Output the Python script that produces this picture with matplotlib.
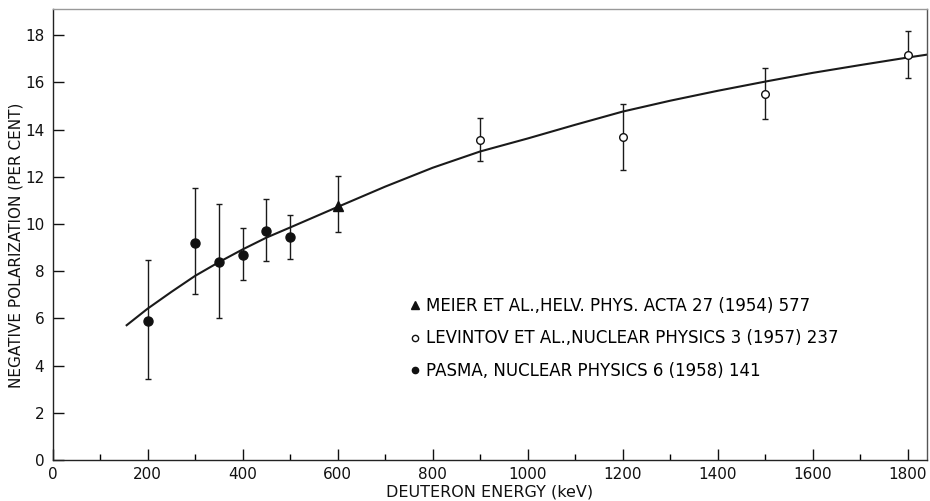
import numpy as np
import matplotlib
matplotlib.use("Agg")
import matplotlib.pyplot as plt
from matplotlib.lines import Line2D

# Pasma, Nuclear Physics 6 (1958) 141  -- filled circles
pasma_e = [200, 300, 350, 400, 450, 500]
pasma_p = [5.9, 9.2, 8.38, 8.7, 9.72, 9.45]
pasma_lo = [3.42, 7.02, 6.02, 7.61, 8.43, 8.51]
pasma_hi = [8.46, 11.53, 10.85, 9.84, 11.05, 10.37]

# Meier et al. -- triangle
meier_e = [600]
meier_p = [10.77]
meier_lo = [9.67]
meier_hi = [12.01]

# Levintov et al. -- open circles
lev_e = [900, 1200, 1500, 1800]
lev_p = [13.56, 13.70, 15.49, 17.15]
lev_lo = [12.66, 12.30, 14.45, 16.18]
lev_hi = [14.49, 15.08, 16.60, 18.17]

# drawn curve, points
curve_e = [156, 200, 250, 300, 350, 400, 450, 500, 600, 700, 800, 900, 1000,
           1100, 1200, 1300, 1400, 1500, 1600, 1700, 1800, 1840]
curve_p = [5.71, 6.41, 7.12, 7.80, 8.38, 8.92, 9.42, 9.85, 10.72, 11.58, 12.38,
           13.07, 13.62, 14.20, 14.76, 15.22, 15.64, 16.03, 16.40, 16.73, 17.05, 17.17]

legend_labels = ["MEIER ET AL.,HELV. PHYS. ACTA 27 (1954) 577",
                 "LEVINTOV ET AL.,NUCLEAR PHYSICS 3 (1957) 237",
                 "PASMA, NUCLEAR PHYSICS 6 (1958) 141"]

plt.rcParams['font.family'] = ['DejaVu Sans']

fig = plt.figure(figsize=(9.3, 5.01), dpi=100)
ax = fig.add_axes([0.0565, 0.0818, 0.94, 0.9])

ax.plot(curve_e, curve_p, color='#1a1a1a', lw=1.5, zorder=2)


def yerr(p, lo, hi):
    p = np.array(p)
    return [p - np.array(lo), np.array(hi) - p]


ebk = dict(ecolor='#1a1a1a', elinewidth=1.0, capsize=2.5, capthick=1.0, ls='none', zorder=3)
ax.errorbar(pasma_e, pasma_p, yerr=yerr(pasma_p, pasma_lo, pasma_hi),
            fmt='o', color='#111111', ms=6.5, **ebk)
ax.errorbar(meier_e, meier_p, yerr=yerr(meier_p, meier_lo, meier_hi),
            fmt='^', color='#111111', ms=7, **ebk)
ax.errorbar(lev_e, lev_p, yerr=yerr(lev_p, lev_lo, lev_hi),
            fmt='o', color='#111111', mfc='white', mec='#111111', mew=1.0, ms=5.5, **ebk)

ax.set_xlim(0, 1840)
ax.set_ylim(0, 19.1)
ax.set_xticks(np.arange(0, 1801, 200))
ax.set_xticks(np.arange(100, 1801, 200), minor=True)
ax.set_yticks(np.arange(0, 19, 2))
ax.tick_params(axis='both', which='major', direction='in', length=8, width=1,
               labelsize=11, colors='#111111')
ax.tick_params(axis='x', which='minor', direction='in', length=4, width=1)
ax.tick_params(axis='x', which='major', pad=5)
ax.tick_params(axis='y', which='major', pad=6)
for s in ax.spines.values():
    s.set_linewidth(1.0)
    s.set_color('#222222')
ax.spines['top'].set_color('#999999')
ax.spines['right'].set_color('#555555')

ax.set_xlabel("DEUTERON ENERGY (keV)", fontsize=11.5, labelpad=2, color='#111111')
ax.set_ylabel("NEGATIVE POLARIZATION (PER CENT)", fontsize=11, color='#111111')
ax.yaxis.set_label_coords(-0.0335, 0.477)

handles = [Line2D([], [], marker='^', ls='none', color='#111111', ms=6),
           Line2D([], [], marker='o', ls='none', mfc='white', mec='#111111', mew=1.0, ms=4.5),
           Line2D([], [], marker='o', ls='none', color='#111111', ms=4.5)]
ax.legend(handles, legend_labels, loc='upper left', bbox_to_anchor=(0.4014, 0.377),
          frameon=False, fontsize=12, handlelength=0.6, handletextpad=0.36,
          labelspacing=0.88, borderaxespad=0)

fig.savefig("out.png", dpi=100)
